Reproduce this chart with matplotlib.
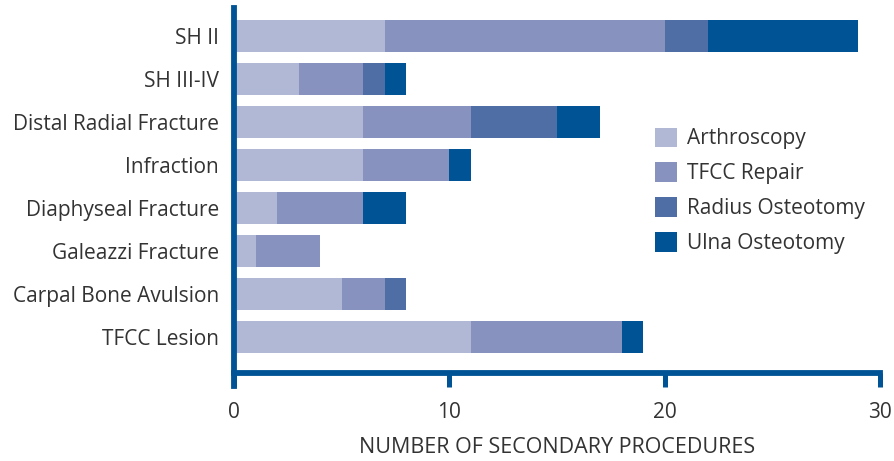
import matplotlib.pyplot as plt
import numpy as np

# Data
categories = ['SH II', 'SH III-IV', 'Distal Radial Fracture', 'Infraction',
              'Diaphyseal Fracture', 'Galeazzi Fracture', 'Carpal Bone Avulsion', 'TFCC Lesion']
arthroscopy = [7, 3, 6, 6, 2, 1, 5, 11]
tfcc_repair = [13, 3, 5, 4, 4, 3, 2, 7]
radius_osteotomy = [2, 1, 4, 0, 0, 0, 1, 0]
ulna_osteotomy = [7, 1, 2, 1, 2, 0, 0, 1]
series_names = ['Arthroscopy', 'TFCC Repair', 'Radius Osteotomy', 'Ulna Osteotomy']
colors = ['#b0b8d6', '#8792bf', '#506ea6', '#005496']
axis_color = '#005496'
text_color = '#333333'

plt.rcParams['font.family'] = ['Open Sans', 'DejaVu Sans']

fig = plt.figure(figsize=(8.94, 4.61), dpi=100)
ax = fig.add_axes([0.262, 0.191, 0.722, 0.792])

y = np.arange(len(categories))
series = [arthroscopy, tfcc_repair, radius_osteotomy, ulna_osteotomy]
left = np.zeros(len(categories))
for vals, name, col in zip(series, series_names, colors):
    ax.barh(y, vals, left=left, height=0.74, color=col, label=name, linewidth=0)
    left += np.array(vals)

ax.set_xlim(0, 30)
ax.set_ylim(7 + 36 / 43, -28 / 43)
ax.set_xticks([0, 10, 20, 30])
ax.set_yticks(y)
ax.set_yticklabels(categories, fontsize=15, color=text_color)

for s in ['top', 'right']:
    ax.spines[s].set_visible(False)
for s in ['left', 'bottom']:
    ax.spines[s].set_color(axis_color)
    ax.spines[s].set_linewidth(4.2)
ax.spines['left'].set_bounds(7 + 36 / 43 + 13 / 43, -28 / 43)

ax.tick_params(axis='y', length=0, pad=11)
ax.tick_params(axis='x', length=10, width=3.6, color=axis_color, direction='out',
               labelsize=15, labelcolor=text_color, pad=11)
ax.spines['left'].set_zorder(3)
ax.spines['left'].set_clip_on(False)

ax.set_xlabel('NUMBER OF SECONDARY PROCEDURES', fontsize=15.5, color=text_color, labelpad=10)

leg = ax.legend(loc='upper left', bbox_to_anchor=(0.652, 0.672), frameon=False,
                fontsize=15, handlelength=1.05, handleheight=1.05, handletextpad=0.48,
                labelspacing=0.63, labelcolor=text_color, borderaxespad=0, borderpad=0)

fig.savefig('out.png', dpi=100)
